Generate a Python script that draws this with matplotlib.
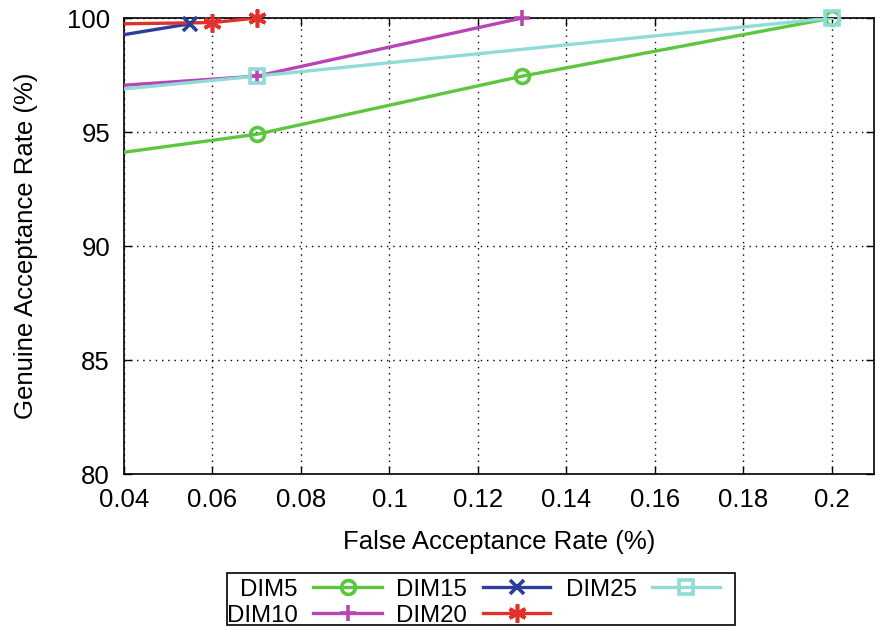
import matplotlib
matplotlib.use("Agg")
import matplotlib.pyplot as plt
from matplotlib.lines import Line2D
from matplotlib.patches import Rectangle

plt.rcParams['font.family'] = ['Liberation Sans', 'DejaVu Sans']

labels = ["DIM5", "DIM10", "DIM15", "DIM20", "DIM25"]
dim5_x = [0.03, 0.07, 0.13, 0.20]
dim5_y = [93.85, 94.9, 97.45, 100.0]
dim10_x = [0.03, 0.07, 0.13]
dim10_y = [96.92, 97.45, 100.0]
dim15_x = [0.03, 0.055]
dim15_y = [98.95, 99.75]
dim20_x = [0.03, 0.06, 0.07]
dim20_y = [99.72, 99.8, 100.0]
dim25_x = [0.03, 0.07, 0.20]
dim25_y = [96.7, 97.45, 100.0]

xticks = [0.04, 0.06, 0.08, 0.1, 0.12, 0.14, 0.16, 0.18, 0.2]
xticklabels = ["0.04", "0.06", "0.08", "0.1", "0.12", "0.14", "0.16", "0.18", "0.2"]
yticks = [80, 85, 90, 95, 100]

colors = ["#5cc63e", "#b845b4", "#2b3e9c", "#e0312a", "#8fdcd6"]
markers = ["o", "+", "x", (6, 2, 0), "s"]
msizes = [10, 11, 10, 13, 10]
XMIN, XMAX = 0.04, 0.2095
W, H = 875, 626

fig = plt.figure(figsize=(8.75, 6.26), dpi=100)
ax = fig.add_axes([124/W, 1-474/H, 750/W, 456/H])

series = [(dim5_x, dim5_y), (dim10_x, dim10_y), (dim15_x, dim15_y),
          (dim20_x, dim20_y), (dim25_x, dim25_y)]
mkws = []
for i, (x, y) in enumerate(series):
    m = markers[i]
    mkw = dict(marker=m, markersize=msizes[i], markeredgewidth=2.6, markeredgecolor=colors[i])
    mkw["markerfacecolor"] = "none" if m in ("o", "s") else colors[i]
    mkws.append(mkw)
    ax.plot(x, y, color=colors[i], lw=2.4, zorder=3)
    vx = [a for a in x if XMIN <= a <= XMAX]
    vy = [b for a, b in zip(x, y) if XMIN <= a <= XMAX]
    ax.plot(vx, vy, linestyle="none", clip_on=False, zorder=4, **mkw)

ax.set_xlim(XMIN, XMAX)
ax.set_ylim(80, 100)
ax.set_xticks(xticks)
ax.set_xticklabels(xticklabels)
ax.set_yticks(yticks)
ax.tick_params(direction="in", top=True, right=True, length=6, width=1,
               labelsize=18.5, pad=10)
ax.grid(True, linestyle=(0, (1, 3.5)), color="black", linewidth=1)
for s in ax.spines.values():
    s.set_linewidth(1.2)

ax.set_xlabel("False Acceptance Rate (%)", fontsize=18.5, labelpad=13)
ax.set_ylabel("Genuine Acceptance Rate (%)", fontsize=18.5, labelpad=21)

# manual legend (gnuplot style: right-aligned text, then sample)
fig.add_artist(Rectangle((227/W, 1-625/H), (735-227)/W, 52/H, transform=fig.transFigure,
                         fill=False, edgecolor="black", linewidth=1.2))
text_right = [298, 298, 467, 467, 637]
line_x0 = [313, 313, 483, 483, 652]
line_x1 = [382, 382, 550, 550, 720]
row_y = [587, 613, 587, 613, 587]
for i, lab in enumerate(labels):
    yy = 1 - row_y[i]/H
    fig.text(text_right[i]/W, yy, lab, ha="right", va="center_baseline", fontsize=17.3)
    x0, x1 = line_x0[i]/W, line_x1[i]/W
    fig.add_artist(Line2D([x0, (x0+x1)/2, x1], [yy, yy, yy], transform=fig.transFigure,
                          color=colors[i], lw=2.4, markevery=[1], **mkws[i]))

fig.savefig("out.png", dpi=100)
